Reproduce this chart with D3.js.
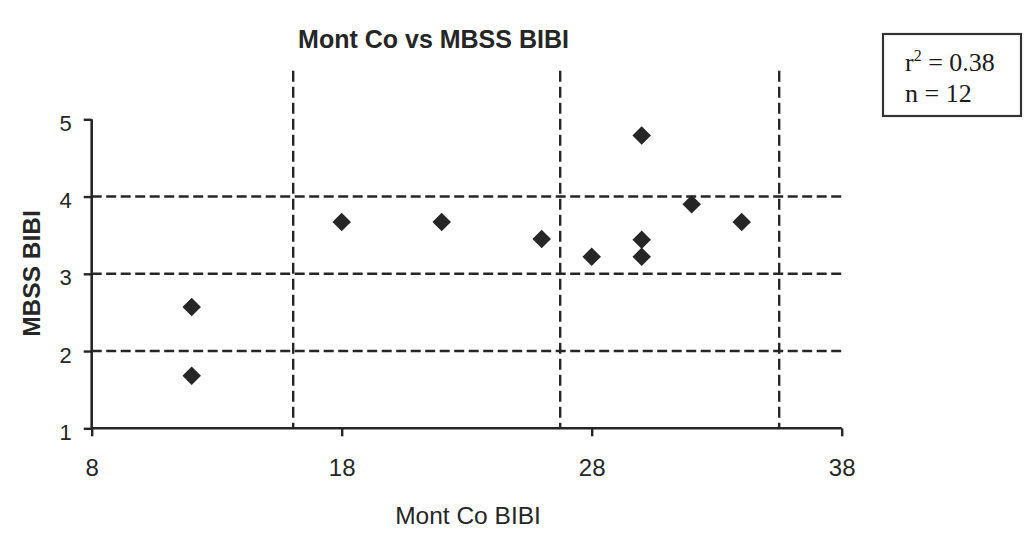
<!DOCTYPE html>
<html>
<head>
<meta charset="utf-8">
<script src="https://cdn.jsdelivr.net/npm/d3@7"></script>
<style>
html,body{margin:0;padding:0;background:#fff;}
svg{display:block;}
</style>
</head>
<body>
<svg id="chart" width="1025" height="534"></svg>
<script>
// ---- data ----
const montCoBIBI = [12, 12, 18, 22, 26, 28, 30, 30, 30, 32, 34];
const mbssBIBI   = [1.68, 2.57, 3.67, 3.67, 3.45, 3.22, 3.44, 3.22, 4.79, 3.90, 3.67];
const xTicks = [8, 18, 28, 38];
const yTicks = [1, 2, 3, 4, 5];
const hGridValues = [2, 3, 4];
const vRefValues = [16.06, 26.74, 35.5];
const vRefTop = 5.63;
const titleText = "Mont Co vs MBSS BIBI";
const xTitle = "Mont Co BIBI";
const yTitle = "MBSS BIBI";
const statLines = [{pre: "r", sup: "2", post: " = 0.38"}, {pre: "n = 12", sup: "", post: ""}];

// ---- layout ----
const svg = d3.select("#chart");
const ink = "#262626";
const x = d3.scaleLinear().domain([8, 38]).range([91.7, 841.7]);
const y = d3.scaleLinear().domain([1, 5]).range([428.3, 119.3]);

// horizontal dashed gridlines
svg.append("g").selectAll("line").data(hGridValues).join("line")
  .attr("x1", x(8)).attr("x2", x(38))
  .attr("y1", d => y(d)).attr("y2", d => y(d))
  .attr("stroke", ink).attr("stroke-width", 2.4)
  .attr("stroke-dasharray", "10,4.5");

// vertical dashed reference lines
svg.append("g").selectAll("line").data(vRefValues).join("line")
  .attr("x1", d => x(d)).attr("x2", d => x(d))
  .attr("y1", y(vRefTop)).attr("y2", y(1))
  .attr("stroke", ink).attr("stroke-width", 2.4)
  .attr("stroke-dasharray", "11,5");

// x axis
const xAxis = svg.append("g").attr("transform", `translate(0,${y(1)})`)
  .call(d3.axisBottom(x).tickValues(xTicks).tickSize(8).tickPadding(23).tickFormat(d3.format("d")));
xAxis.select(".domain").attr("d", `M${x(8)},0H${x(38)}`).attr("stroke", ink).attr("stroke-width", 2.6);
xAxis.selectAll(".tick line").attr("stroke", ink).attr("stroke-width", 2.4);
xAxis.selectAll(".tick text").attr("fill", ink)
  .style("font-family", "'Liberation Sans', Arial, sans-serif").style("font-size", "24px");

// y axis
const yAxis = svg.append("g").attr("transform", `translate(${x(8)},0)`)
  .call(d3.axisLeft(y).tickValues(yTicks).tickSize(8).tickPadding(12).tickFormat(d3.format("d")));
yAxis.select(".domain").attr("d", `M0,${y(5)}V${y(1)}`).attr("stroke", ink).attr("stroke-width", 2.6);
yAxis.selectAll(".tick line").attr("stroke", ink).attr("stroke-width", 2.4);
yAxis.selectAll(".tick text").attr("fill", ink).attr("dy", "0.5em")
  .style("font-family", "'Liberation Sans', Arial, sans-serif").style("font-size", "22px");

// points (diamonds)
const pts = d3.range(montCoBIBI.length).map(i => ({x: montCoBIBI[i], y: mbssBIBI[i]}));
svg.append("g").selectAll("path").data(pts).join("path")
  .attr("d", d3.symbol().type(d3.symbolSquare).size(172))
  .attr("transform", d => `translate(${x(d.x)},${y(d.y)}) rotate(45)`)
  .attr("fill", ink);

// title
svg.append("text").attr("x", 433.5).attr("y", 48).attr("text-anchor", "middle")
  .attr("fill", ink)
  .style("font-family", "'Liberation Sans', Arial, sans-serif").style("font-size", "25px").style("font-weight", "bold")
  .text(titleText);

// x title
svg.append("text").attr("x", 468).attr("y", 524).attr("text-anchor", "middle")
  .attr("fill", ink)
  .style("font-family", "'Liberation Sans', Arial, sans-serif").style("font-size", "24.5px")
  .text(xTitle);

// y title
svg.append("text").attr("transform", "translate(40,273.5) rotate(-90)").attr("text-anchor", "middle")
  .attr("fill", ink)
  .style("font-family", "'Liberation Sans', Arial, sans-serif").style("font-size", "24.5px").style("font-weight", "bold")
  .text(yTitle);

// stats box
svg.append("rect").attr("x", 883).attr("y", 34).attr("width", 138).attr("height", 82)
  .attr("fill", "#fff").attr("stroke", "#333").attr("stroke-width", 2.2);
const st = svg.append("g").style("font-family", "'Liberation Serif', 'Times New Roman', serif")
  .style("font-size", "26px").attr("fill", "#1a1a1a");
statLines.forEach((s, i) => {
  const t = st.append("text").attr("x", 905).attr("y", 70.7 + i * 31);
  t.append("tspan").text(s.pre);
  if (s.sup) t.append("tspan").attr("dy", -10).style("font-size", "16px").text(s.sup);
  if (s.post) t.append("tspan").attr("dy", s.sup ? 10 : 0).text(s.post);
});
</script>
</body>
</html>
